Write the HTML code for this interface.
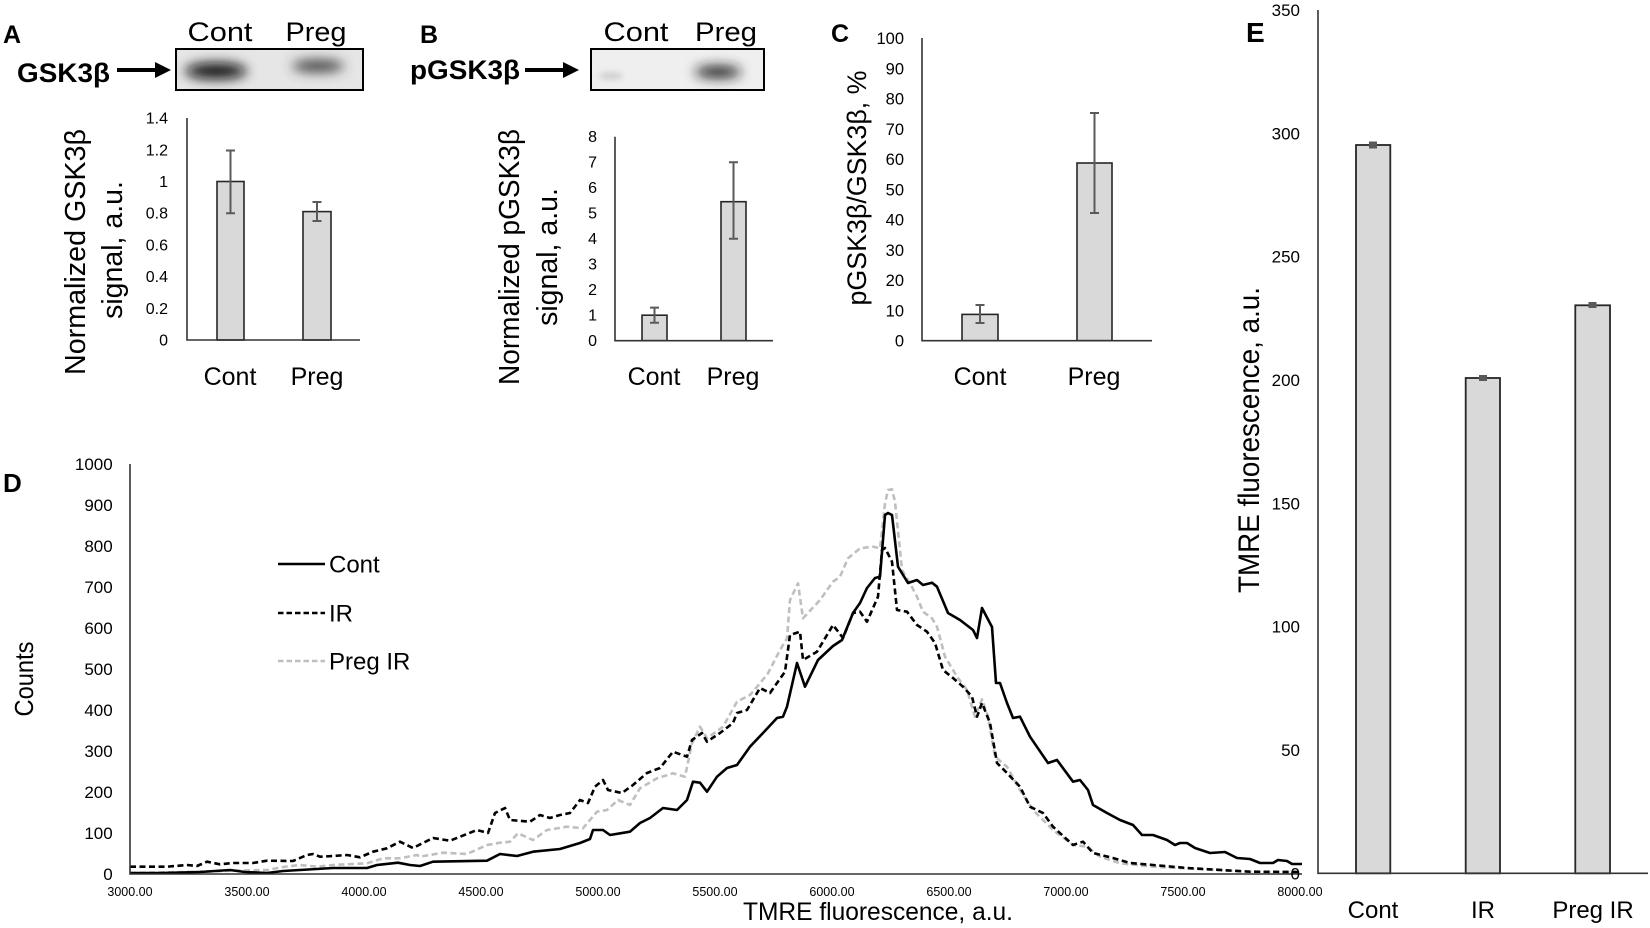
<!DOCTYPE html>
<html><head><meta charset="utf-8"><style>
html,body{margin:0;padding:0;background:#fff;}
svg{display:block;font-family:"Liberation Sans",Arial,sans-serif;}
</style></head><body>
<svg width="1650" height="928" viewBox="0 0 1650 928" xmlns="http://www.w3.org/2000/svg">
<defs>
<filter id="bl" x="-60%" y="-150%" width="220%" height="400%"><feGaussianBlur stdDeviation="6"/></filter>
<filter id="bl2" x="-60%" y="-120%" width="220%" height="340%"><feGaussianBlur stdDeviation="3"/></filter>
<clipPath id="cA"><rect x="176" y="49" width="187" height="41"/></clipPath>
<clipPath id="cB"><rect x="591" y="49" width="173" height="41"/></clipPath>
</defs>
<rect width="1650" height="928" fill="#fff"/>

<!-- ===== Panel A ===== -->
<text x="3" y="43" font-size="25" font-weight="bold">A</text>
<text x="220" y="41" font-size="27" text-anchor="middle" textLength="65" lengthAdjust="spacingAndGlyphs">Cont</text>
<text x="316" y="41" font-size="27" text-anchor="middle" textLength="61" lengthAdjust="spacingAndGlyphs">Preg</text>
<text x="17" y="82" font-size="27" font-weight="bold" textLength="93" lengthAdjust="spacingAndGlyphs">GSK3β</text>
<line x1="117" y1="70" x2="158" y2="70" stroke="#000" stroke-width="4"/>
<polygon points="155,62 171,70 155,78" fill="#000"/>
<rect x="176" y="49" width="187" height="41" fill="#e6e6e6"/>
<g clip-path="url(#cA)">
<ellipse cx="216" cy="71" rx="31" ry="8" fill="#0a0a0a" filter="url(#bl)"/>
<ellipse cx="318" cy="66" rx="26" ry="6" fill="#3a3a3a" filter="url(#bl)"/>
</g>
<rect x="176" y="49" width="187" height="41" fill="none" stroke="#000" stroke-width="2"/>

<g font-size="16" text-anchor="end">
<text x="168" y="345.5">0</text><text x="168" y="313.8">0.2</text><text x="168" y="282.1">0.4</text><text x="168" y="250.4">0.6</text>
<text x="168" y="218.7">0.8</text><text x="168" y="187">1</text><text x="168" y="155.3">1.2</text><text x="168" y="123.6">1.4</text>
</g>
<rect x="217" y="181.5" width="27" height="158.5" fill="#d9d9d9" stroke="#262626" stroke-width="1.6"/>
<rect x="303" y="211.6" width="28" height="128.4" fill="#d9d9d9" stroke="#262626" stroke-width="1.6"/>
<g stroke="#5a5a5a" stroke-width="2" fill="none">
<path d="M230.5 150.5V213.2M226 150.5H235M226 213.2H235"/>
<path d="M317 202V221M312.5 202H321.5M312.5 221H321.5"/>
</g>
<path d="M187 118V340H360" fill="none" stroke="#333" stroke-width="1.6"/>
<text transform="translate(85,252) rotate(-90)" font-size="28.5" text-anchor="middle" textLength="246" lengthAdjust="spacingAndGlyphs">Normalized GSK3β</text>
<text transform="translate(122,250) rotate(-90)" font-size="28.5" text-anchor="middle">signal, a.u.</text>
<text x="230" y="385" font-size="25" text-anchor="middle">Cont</text>
<text x="317" y="385" font-size="25" text-anchor="middle">Preg</text>

<!-- ===== Panel B ===== -->
<text x="420" y="43" font-size="25" font-weight="bold">B</text>
<text x="636" y="41" font-size="27" text-anchor="middle" textLength="65" lengthAdjust="spacingAndGlyphs">Cont</text>
<text x="726" y="41" font-size="27" text-anchor="middle" textLength="62" lengthAdjust="spacingAndGlyphs">Preg</text>
<text x="410" y="79" font-size="27" font-weight="bold" textLength="110" lengthAdjust="spacingAndGlyphs">pGSK3β</text>
<line x1="525" y1="70" x2="566" y2="70" stroke="#000" stroke-width="4"/>
<polygon points="563,62 579,70 563,78" fill="#000"/>
<rect x="591" y="49" width="173" height="41" fill="#efefef"/>
<g clip-path="url(#cB)">
<ellipse cx="718" cy="72" rx="23" ry="6" fill="#1a1a1a" filter="url(#bl)"/>
<ellipse cx="611" cy="76" rx="12" ry="4" fill="#d0d0d0" filter="url(#bl2)"/>
</g>
<rect x="591" y="49" width="173" height="41" fill="none" stroke="#000" stroke-width="2"/>

<g font-size="16" text-anchor="end">
<text x="597" y="346.2">0</text><text x="597" y="320.7">1</text><text x="597" y="295.2">2</text><text x="597" y="269.7">3</text>
<text x="597" y="244.2">4</text><text x="597" y="218.7">5</text><text x="597" y="193.2">6</text><text x="597" y="167.7">7</text><text x="597" y="142.2">8</text>
</g>
<rect x="642" y="315.2" width="25" height="25.5" fill="#d9d9d9" stroke="#262626" stroke-width="1.6"/>
<rect x="721" y="201.7" width="25" height="139" fill="#d9d9d9" stroke="#262626" stroke-width="1.6"/>
<g stroke="#5a5a5a" stroke-width="2" fill="none">
<path d="M654.5 307.6V322.8M650 307.6H659M650 322.8H659"/>
<path d="M733.5 162.2V238.7M729 162.2H738M729 238.7H738"/>
</g>
<path d="M615 136.7V340.7H773" fill="none" stroke="#333" stroke-width="1.6"/>
<text transform="translate(519,257) rotate(-90)" font-size="28.5" text-anchor="middle" textLength="256" lengthAdjust="spacingAndGlyphs">Normalized pGSK3β</text>
<text transform="translate(557,257) rotate(-90)" font-size="28.5" text-anchor="middle">signal, a.u.</text>
<text x="654" y="385" font-size="25" text-anchor="middle">Cont</text>
<text x="733" y="385" font-size="25" text-anchor="middle">Preg</text>

<!-- ===== Panel C ===== -->
<text x="831" y="42" font-size="25" font-weight="bold">C</text>
<g font-size="16.5" text-anchor="end">
<text x="904" y="346.7">0</text><text x="904" y="316.4">10</text><text x="904" y="286.2">20</text><text x="904" y="255.9">30</text>
<text x="904" y="225.6">40</text><text x="904" y="195.4">50</text><text x="904" y="165.1">60</text><text x="904" y="134.8">70</text>
<text x="904" y="104.5">80</text><text x="904" y="74.3">90</text><text x="904" y="44">100</text>
</g>
<rect x="962" y="314.4" width="36" height="26.3" fill="#d9d9d9" stroke="#262626" stroke-width="1.6"/>
<rect x="1077" y="163" width="35" height="177.7" fill="#d9d9d9" stroke="#262626" stroke-width="1.6"/>
<g stroke="#5a5a5a" stroke-width="2" fill="none">
<path d="M980 305V323M975.5 305H984.5M975.5 323H984.5"/>
<path d="M1094.5 113V213M1090 113H1099M1090 213H1099"/>
</g>
<path d="M922 38V340.7H1152" fill="none" stroke="#333" stroke-width="1.6"/>
<text transform="translate(866,188) rotate(-90)" font-size="27" text-anchor="middle" textLength="235" lengthAdjust="spacingAndGlyphs">pGSK3β/GSK3β, %</text>
<text x="980" y="385" font-size="25" text-anchor="middle">Cont</text>
<text x="1094" y="385" font-size="25" text-anchor="middle">Preg</text>

<!-- ===== Panel D ===== -->
<text x="3" y="492" font-size="26" font-weight="bold">D</text>
<g font-size="17" text-anchor="end">
<text x="112.7" y="880">0</text><text x="112.7" y="839">100</text><text x="112.7" y="798">200</text><text x="112.7" y="757">300</text>
<text x="112.7" y="716">400</text><text x="112.7" y="675">500</text><text x="112.7" y="634">600</text><text x="112.7" y="593">700</text>
<text x="112.7" y="552">800</text><text x="112.7" y="511">900</text><text x="112.7" y="470">1000</text>
</g>
<g font-size="12.5" text-anchor="middle">
<text x="130" y="896">3000.00</text><text x="247" y="896">3500.00</text><text x="364" y="896">4000.00</text>
<text x="481" y="896">4500.00</text><text x="598" y="896">5000.00</text><text x="715" y="896">5500.00</text>
<text x="832" y="896">6000.00</text><text x="949" y="896">6500.00</text><text x="1066" y="896">7000.00</text>
<text x="1183" y="896">7500.00</text><text x="1300" y="896">8000.00</text>
</g>
<text transform="translate(33,679) rotate(-90)" font-size="26" text-anchor="middle" textLength="75" lengthAdjust="spacingAndGlyphs">Counts</text>
<text x="878" y="920" font-size="25" text-anchor="middle" textLength="270" lengthAdjust="spacingAndGlyphs">TMRE fluorescence, a.u.</text>

<!-- curves -->
<polyline fill="none" stroke="#bfbfbf" stroke-width="2.6" stroke-dasharray="6,3.5" stroke-linejoin="round" points="130,873 200,871.7 233,870.7 267,870 283,867 300,865 317,866.7 333,865 367,863.3 383,858.3 400,858.3 417,855 420,856.7 443,852.7 467,854 487,845 500,842.7 510,841.7 518,833.3 533,840 547,830 567,826.7 583,828.3 597,811.7 607,810 618,800 630,805 640,788.3 657,778.3 673,773.3 685,776.7 692,743.3 700,726.7 707,738.3 723,726.7 737,701.7 750,695 760,683.3 768,673.3 780,650 787,638.3 790,600 798,583.3 803,618.3 820,600 833,581.7 840,576.7 848,558.3 852,555 860,548.3 873,546.7 880,548.3 885,503.3 888,490 892,489.3 895,501.7 902,570 910,583.3 917,596.7 923,611.7 932,618.3 937,626.7 945,656.7 957,676.7 967,690 975,716.7 982,699.3 988,716.7 995,756.7 1007,766.7 1020,790 1033,810 1053,830 1073,845 1087,846.7 1100,856.7 1120,863.3 1153,866.7 1250,871.7 1300,872"/>
<polyline fill="none" stroke="#000" stroke-width="2.6" stroke-dasharray="6,3.5" stroke-linejoin="round" points="130,866.7 167,866.7 187,865 197,866 207,861.7 220,864.3 233,863 253,863 267,860.7 293,861 307,855 313,854 320,856.7 333,856 347,855 360,857.3 373,851.7 387,848.3 400,841.7 413,848 433,838 450,840.7 477,830 488,833 495,813 505,808 510,820 530,821.7 540,815 550,818 560,815 570,813 580,800 588,803 595,786.7 603,780 608,790 622,793 633,785 647,773 660,768 673,751.7 687,756.7 692,740 702,733 707,741.7 720,733 733,723 737,713 747,710 760,688 770,693 785,671.7 790,635 800,631.7 803,660 817,651.7 833,625 843,638 853,613 860,611.7 867,621.7 878,596.7 882,550 885,548 892,561.7 897,610 907,611.7 917,625 927,631.7 935,643 943,670 953,678 963,686.7 972,696.7 977,716.7 982,703 990,723 997,763 1007,773 1020,786.7 1030,806.7 1043,813 1053,826.7 1073,845 1083,841.7 1093,853 1113,858 1130,863 1153,865 1187,868 1250,871.7 1300,872"/>
<polyline fill="none" stroke="#000" stroke-width="2.6" stroke-linejoin="round" points="130,873 160,873 200,872 230,870 245,872 267,873 283,871 300,870 333,868 367,868 377,865 398,862.7 410,865 420,866 433,861.7 487,860.7 500,854 517,856 533,851.7 560,849 580,843 590,839 593,830 603,830 610,835 630,831.7 640,823 650,818 663,808 677,810 687,800 693,781.7 700,782.7 707,791.7 717,776.7 727,768 737,765 750,746.7 763,733 777,718 783,716.7 787,706.7 797,663 805,686.7 818,660 833,646 842,640 853,613 860,603 867,588 875,578 880,576.7 885,515 888,513 892,515 898,566.7 908,583 917,580 923,585 932,582.7 937,586.7 948,613 960,620 973,630 977,638 982,608 992,627 996,683 1000,683 1007,703 1013,718 1020,716.7 1030,736.7 1048,763 1057,760 1073,781.7 1080,780 1088,790 1093,805 1107,813 1120,820 1133,825 1142,835 1153,835 1167,840 1175,845 1180,843 1187,843 1195,848 1210,853 1225,852 1237,858 1250,859 1260,863 1273,863 1278,860 1287,861 1292,864 1302,864"/>
<path d="M130 464V874H1302" fill="none" stroke="#333" stroke-width="1.6"/>

<!-- legend -->
<line x1="278" y1="564" x2="325" y2="564" stroke="#000" stroke-width="2.6"/>
<line x1="278" y1="613" x2="325" y2="613" stroke="#000" stroke-width="2.6" stroke-dasharray="5.5,3"/>
<line x1="278" y1="661" x2="325" y2="661" stroke="#bfbfbf" stroke-width="2.6" stroke-dasharray="5.5,3"/>
<g font-size="24">
<text x="329" y="572.5">Cont</text>
<text x="329" y="621.5">IR</text>
<text x="329" y="669.5">Preg IR</text>
</g>

<!-- ===== Panel E ===== -->
<text x="1246" y="42" font-size="28" font-weight="bold">E</text>
<g font-size="17" text-anchor="end">
<text x="1300" y="879.3">0</text><text x="1300" y="756">50</text><text x="1300" y="632.6">100</text><text x="1300" y="509.3">150</text>
<text x="1300" y="386">200</text><text x="1300" y="262.6">250</text><text x="1300" y="139.3">300</text><text x="1300" y="16">350</text>
</g>
<rect x="1356" y="145" width="34.3" height="728.3" fill="#d9d9d9" stroke="#262626" stroke-width="1.8"/>
<rect x="1465.7" y="378" width="34.3" height="495.3" fill="#d9d9d9" stroke="#262626" stroke-width="1.8"/>
<rect x="1575.3" y="305.3" width="34.7" height="568" fill="#d9d9d9" stroke="#262626" stroke-width="1.8"/>
<g fill="#595959">
<rect x="1369" y="141.5" width="8" height="7"/>
<rect x="1479" y="375" width="8" height="6"/>
<rect x="1588.5" y="302" width="8" height="6"/>
</g>
<path d="M1318 10V873.3H1648" fill="none" stroke="#333" stroke-width="1.6"/>
<text transform="translate(1259,440) rotate(-90)" font-size="30" text-anchor="middle" textLength="306" lengthAdjust="spacingAndGlyphs">TMRE fluorescence, a.u.</text>
<g font-size="24" text-anchor="middle">
<text x="1373" y="918">Cont</text>
<text x="1483" y="918">IR</text>
<text x="1593" y="918">Preg IR</text>
</g>
</svg>
</body></html>
